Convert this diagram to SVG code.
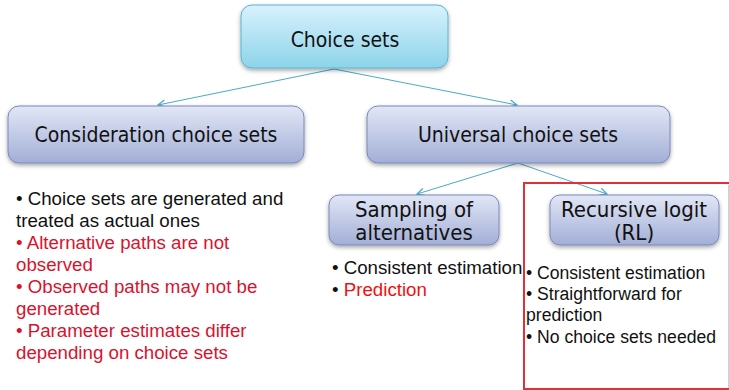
<svg xmlns="http://www.w3.org/2000/svg" width="729" height="390" viewBox="0 0 729 390">
<defs>
<linearGradient id="gTop" x1="0" y1="0" x2="0" y2="1"><stop offset="0" stop-color="#d8f2fc"/><stop offset="1" stop-color="#8dd3ea"/></linearGradient>
<linearGradient id="gBox" x1="0" y1="0" x2="0" y2="1"><stop offset="0" stop-color="#e2e7f6"/><stop offset="1" stop-color="#a2aed6"/></linearGradient>
<filter id="sh" x="-10%" y="-10%" width="120%" height="140%"><feDropShadow dx="0" dy="2" stdDeviation="2" flood-color="#000" flood-opacity="0.35"/></filter>
<marker id="arr" viewBox="0 0 10 10" refX="9" refY="5" markerWidth="9" markerHeight="9" orient="auto" markerUnits="userSpaceOnUse"><path d="M1,1 L9,5 L1,9" fill="none" stroke="#4aaac8" stroke-width="1.4"/></marker>
<style>
.box{fill:url(#gBox);stroke:#7888bb;stroke-width:1;filter:url(#sh)}
.top{fill:url(#gTop);stroke:#5cb2cf;stroke-width:1;filter:url(#sh)}
.bt{font-family:"DejaVu Sans Condensed","DejaVu Sans",sans-serif;font-size:21px;fill:#111;text-anchor:middle}
.bs{font-size:22px}
.tx{font-family:"Liberation Sans",Arial,sans-serif;font-size:18.7px;fill:#111}
.sm{font-size:17.6px}
.red{fill:#d9122e}
.red2{fill:#f01010}
.con{stroke:#4aaac8;stroke-width:1;fill:none;marker-end:url(#arr)}
</style>
</defs>
<rect width="729" height="390" fill="#fff"/>
<g id="connectors">
<line class="con" x1="334" y1="69" x2="158" y2="105"/>
<line class="con" x1="334" y1="69" x2="517" y2="105"/>
<line class="con" x1="518" y1="163" x2="417" y2="194"/>
<line class="con" x1="518" y1="163" x2="607" y2="194"/>
</g>
<g id="choice-sets">
<rect class="top" x="241" y="5" width="207" height="63" rx="11"/>
<text class="bt" x="345" y="47" font-size="23">Choice sets</text>
</g>
<g id="consideration">
<rect class="box" x="8" y="106" width="296" height="57" rx="11"/>
<text class="bt" x="156" y="142">Consideration choice sets</text>
</g>
<g id="universal">
<rect class="box" x="367" y="106" width="303" height="57" rx="11"/>
<text class="bt" x="518" y="142">Universal choice sets</text>
</g>
<g id="sampling">
<rect class="box" x="329" y="195" width="170" height="50" rx="10"/>
<text class="bt bs" x="414" y="217">Sampling of</text>
<text class="bt bs" x="414" y="240">alternatives</text>
</g>
<g id="rl">
<rect class="box" x="550" y="195" width="169" height="50" rx="10"/>
<text class="bt bs" x="634" y="217">Recursive logit</text>
<text class="bt bs" x="634" y="240">(RL)</text>
</g>
<rect x="524" y="183" width="215" height="206" fill="none" stroke="#e03038" stroke-width="2"/>
<line x1="728.5" y1="185" x2="728.5" y2="388" stroke="#d0d0d0" stroke-width="1"/>
<g id="left-text" class="tx">
<text x="16" y="205">• Choice sets are generated and</text>
<text x="16" y="227">treated as actual ones</text>
<text x="16" y="249" class="red">• Alternative paths are not</text>
<text x="16" y="271" class="red">observed</text>
<text x="16" y="293" class="red">• Observed paths may not be</text>
<text x="16" y="315" class="red">generated</text>
<text x="16" y="337" class="red">• Parameter estimates differ</text>
<text x="16" y="359" class="red">depending on choice sets</text>
</g>
<g id="sampling-text" class="tx">
<text x="332" y="274">• Consistent estimation</text>
<text x="332" y="296"><tspan>• </tspan><tspan class="red2">Prediction</tspan></text>
</g>
<g id="rl-text" class="tx sm">
<text x="526" y="279">• Consistent estimation</text>
<text x="526" y="300">• Straightforward for</text>
<text x="526" y="321">prediction</text>
<text x="526" y="343">• No choice sets needed</text>
</g>
</svg>
